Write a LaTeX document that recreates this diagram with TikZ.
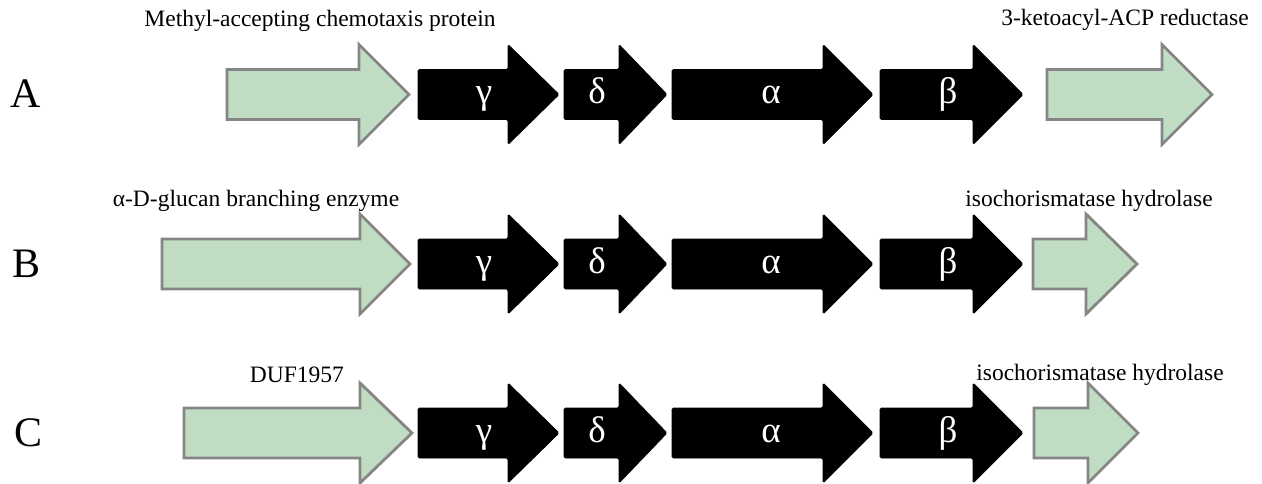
\documentclass[tikz,border=0pt]{standalone}
\usepackage{fontspec}
\setmainfont{Liberation Serif}
\definecolor{genegreen}{HTML}{C0DDC3}
\definecolor{genegray}{HTML}{858585}
\tikzset{
  flank/.style={fill=genegreen, draw=genegray, line width=2.8pt, line join=miter},
  core/.style={fill=black, draw=black, line width=0.8pt, rounded corners=1.5pt},
  greek/.style={text=white, font=\fontsize{37}{42}\selectfont, anchor=base, inner sep=0pt},
  genelabel/.style={font=\fontsize{23.5}{28}\selectfont, anchor=base, inner sep=0pt},
  rowletter/.style={font=\fontsize{42}{48}\selectfont, anchor=base, inner sep=0pt}
}
% #1 left x, #2 head base x, #3 tip x, #4 centre y, #5 style
\newcommand\genearrow[5]{%
  \path[#5] (#1,#4-25) -- (#2,#4-25) -- (#2,#4-50) -- (#3,#4) -- (#2,#4+50)
    -- (#2,#4+25) -- (#1,#4+25) -- cycle;}
\newcommand\corerow[2]{%
  \genearrow{418}{508}{559}{#1}{core}
  \genearrow{564}{619}{667}{#1}{core}
  \genearrow{672}{823}{873}{#1}{core}
  \genearrow{880}{973}{1023}{#1}{core}
  \node[greek] (g#2) at (484,#1+9) {γ};
  \node[greek] (d#2) at (597,#1+9) {δ};
  \node[greek] (a#2) at (771,#1+9) {α};
  \node[greek] (b#2) at (948,#1+9) {β};}
\begin{document}
\begin{tikzpicture}[x=1pt,y=-1pt]
\useasboundingbox (0,0) rectangle (1262,484);
% Row A
\node[rowletter] (rowA) at (26,108) {A};
\genearrow{227}{359}{409}{94.5}{flank}
\corerow{94.5}{A}
\genearrow{1047}{1162}{1212}{94.5}{flank}
\node[genelabel] (labA1) at (320,27) {Methyl-accepting chemotaxis protein};
\node[genelabel] (labA2) at (1125,26) {3-ketoacyl-ACP reductase};
% Row B
\node[rowletter] (rowB) at (27,277) {B};
\genearrow{162}{360}{410}{264}{flank}
\corerow{264}{B}
\genearrow{1033}{1086}{1137}{264}{flank}
\node[genelabel] (labB1) at (256,207) {α-D-glucan branching enzyme};
\node[genelabel] (labB2) at (1089,207) {isochorismatase hydrolase};
% Row C
\node[rowletter] (rowC) at (29,446) {C};
\genearrow{184}{360}{412}{433}{flank}
\corerow{433}{C}
\genearrow{1034}{1088}{1138}{433}{flank}
\node[genelabel] (labC1) at (297,382) {DUF1957};
\node[genelabel] (labC2) at (1100,380) {isochorismatase hydrolase};
\end{tikzpicture}
\end{document}
